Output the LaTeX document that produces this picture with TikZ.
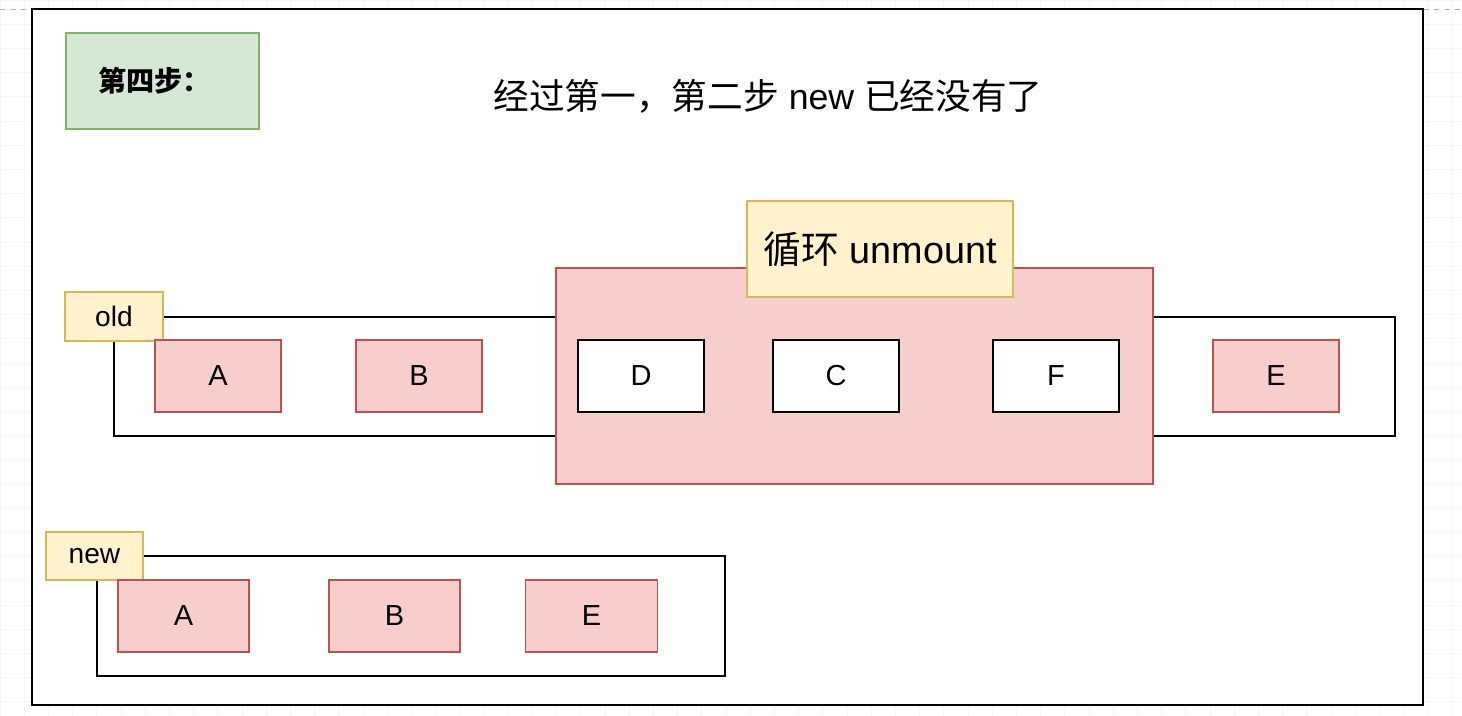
\documentclass[tikz,border=0pt]{standalone}
\usepackage{fontspec}
\usepackage{tikz}
\setmainfont{Liberation Sans}
\newfontfamily\cjk{Noto Sans CJK SC}
\usetikzlibrary{positioning}
\definecolor{greenfill}{HTML}{D5E8D4}
\definecolor{greendraw}{HTML}{82B366}
\definecolor{yellowfill}{HTML}{FFF2CC}
\definecolor{yellowdraw}{HTML}{D6B656}
\definecolor{redfill}{HTML}{F8CECC}
\definecolor{reddraw}{HTML}{B85450}

\tikzset{
    redbox/.style={rectangle,draw=reddraw,fill=redfill,line width=0.9pt,minimum height=1.44cm,font=\fontsize{16.5}{19}\selectfont},
    whitebox/.style={rectangle,draw=black,fill=white,line width=1.1pt,minimum width=2.52cm,minimum height=1.44cm,font=\fontsize{16.5}{19}\selectfont},
    tagbox/.style={rectangle,draw=yellowdraw,fill=yellowfill,line width=1pt},
    groupbox/.style={rectangle,draw=black,line width=1.1pt}
}

\begin{document}
\begin{tikzpicture}
    \useasboundingbox (0,0) rectangle (29.24,-14.32);
    % griglia di sfondo
    \draw[black!4,step=0.484] (0,-14.32) grid (29.24,0);
    \draw[black!30,dashed] (0,-0.18) -- (29.24,-0.18);

    % cornice
    \draw[line width=1.2pt,fill=white] (0.64,-0.18) rectangle (28.46,-14.1);

    % intestazione
    \node[rectangle,draw=greendraw,fill=greenfill,line width=1pt,minimum width=3.86cm,minimum height=1.92cm] (step4) at (3.25,-1.62) {};
    \node[font=\fontsize{16}{19}\selectfont\cjk\bfseries] at ([xshift=-0.16cm]step4.center) {第四步：};
    \node[font=\fontsize{20.3}{24}\selectfont] (title) at (15.36,-1.92) {{\cjk 经过第一，第二步} new {\cjk 已经没有了}};

    % old
    \node[groupbox,minimum width=25.62cm,minimum height=2.38cm] (oldgroup) at (15.09,-7.53) {};
    \node[tagbox,minimum width=1.96cm,minimum height=0.98cm,font=\fontsize{16}{19}\selectfont] (oldtag) at (2.28,-6.33) {old};
    \node[redbox,minimum width=2.52cm] (oldA) at (4.36,-7.52) {A};
    \node[redbox,minimum width=2.52cm] (oldB) at (8.38,-7.52) {B};
    \node[redbox,minimum width=2.52cm] (oldE) at (25.52,-7.52) {E};

    % unmount
    \node[rectangle,draw=reddraw,fill=redfill,line width=1pt,minimum width=11.94cm,minimum height=4.32cm] (loop) at (17.09,-7.52) {};
    \node[tagbox,minimum width=5.32cm,minimum height=1.92cm,font=\fontsize{21.5}{25}\selectfont] (looptag) at (17.6,-4.98) {{\cjk 循环} unmount};
    \node[whitebox] (oldD) at (12.82,-7.52) {D};
    \node[whitebox] (oldC) at (16.72,-7.52) {C};
    \node[whitebox] (oldF) at (21.12,-7.52) {F};

    % new
    \node[groupbox,minimum width=12.56cm,minimum height=2.4cm] (newgroup) at (8.22,-12.32) {};
    \node[tagbox,minimum width=1.94cm,minimum height=0.96cm,font=\fontsize{16}{19}\selectfont] (newtag) at (1.89,-11.12) {new};
    \node[redbox,minimum width=2.62cm] (newA) at (3.67,-12.32) {A};
    \node[redbox,minimum width=2.62cm] (newB) at (7.89,-12.32) {B};
    \node[redbox,minimum width=2.64cm] (newE) at (11.83,-12.32) {E};
\end{tikzpicture}
\end{document}
